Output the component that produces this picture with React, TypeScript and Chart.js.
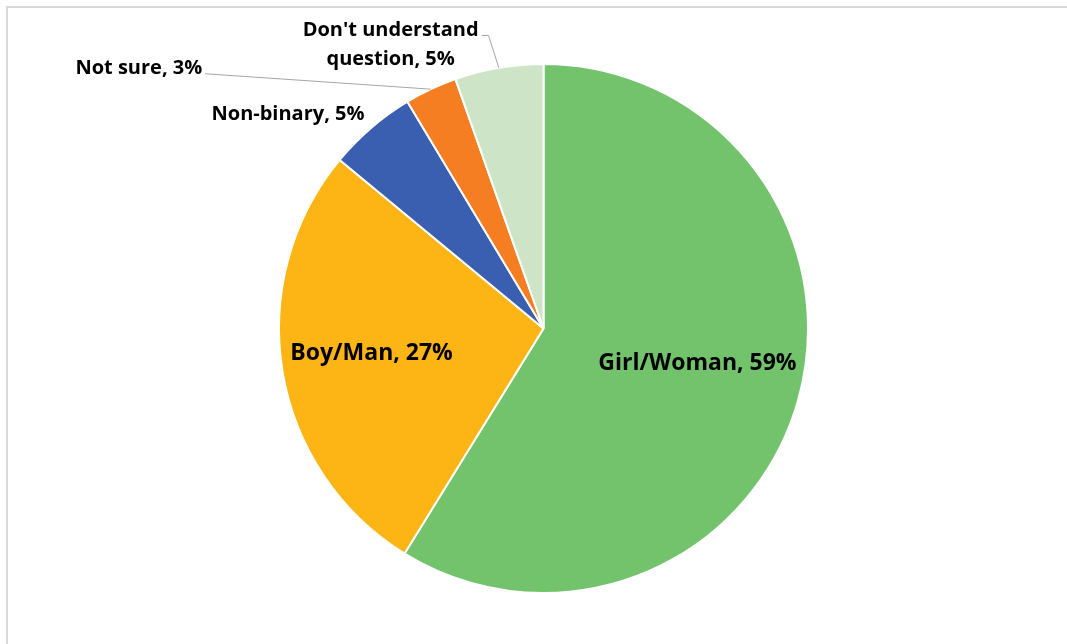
import React, { useEffect, useRef } from "react";
import { Chart, registerables } from "chart.js";

Chart.register(...registerables);

const categories = ["Girl/Woman", "Boy/Man", "Non-binary", "Not sure", "Don't understand\nquestion"];
const values = [58.8, 27.2, 5.4, 3.2, 5.4];
const colors = ["#72C36B", "#FDB515", "#3B5FB0", "#F47E21", "#CDE5C6"];

// label layout: offset of the label centre from the pie centre, in radius units
const labelLayout = [
  { inside: true, dx: 0.582, dy: 0.133 },
  { inside: true, dx: -0.65, dy: 0.095 },
  { inside: false, dx: -0.966, dy: -0.81, leader: false },
  { inside: false, dx: -1.53, dy: -0.982, leader: true },
  { inside: false, dx: -0.578, dy: -1.072, leader: true, elbow: true },
];

const FONT = "'Open Sans', 'Noto Sans', sans-serif";

const labelPlugin = {
  id: "pieLabels",
  afterDraw(chart: any) {
    const ctx = chart.ctx;
    const meta = chart.getDatasetMeta(0);
    const total = values.reduce((a, b) => a + b, 0);
    meta.data.forEach((arc: any, i: number) => {
      const p = arc.getProps(["x", "y", "startAngle", "endAngle", "outerRadius"], true);
      const mid = (p.startAngle + p.endAngle) / 2;
      const pct = Math.round((values[i] / total) * 100);
      const text = categories[i] + ", " + pct + "%";
      const lines = text.split("\n");
      const L: any = labelLayout[i];
      ctx.save();
      ctx.fillStyle = "#000";
      ctx.textAlign = "center";
      ctx.textBaseline = "middle";
      ctx.font = (L.inside ? "bold 23px " : "bold 20px ") + FONT;
      const lh = 29;
      const cx = p.x + L.dx * p.outerRadius;
      const cy = p.y + L.dy * p.outerRadius;
      const y0 = cy - ((lines.length - 1) * lh) / 2;
      lines.forEach((ln: string, k: number) => ctx.fillText(ln, cx, y0 + k * lh));
      if (L.leader) {
        const w = ctx.measureText(lines[0]).width;
        const sx = cx + w / 2 + 3;
        const sy = y0 + 5;
        const ex = p.x + Math.cos(mid) * p.outerRadius;
        const ey = p.y + Math.sin(mid) * p.outerRadius;
        ctx.strokeStyle = "#A6A6A6";
        ctx.lineWidth = 1;
        ctx.beginPath();
        ctx.moveTo(sx, sy);
        if (L.elbow) {
          ctx.lineTo(sx + 7, sy);
        }
        ctx.lineTo(ex, ey);
        ctx.stroke();
      }
      ctx.restore();
    });
  },
};

export default function App() {
  const ref = useRef<HTMLCanvasElement>(null);
  useEffect(() => {
    const chart = new Chart(ref.current!, {
      type: "pie",
      data: {
        labels: categories,
        datasets: [
          {
            data: values,
            backgroundColor: colors,
            borderColor: "#FFFFFF",
            borderWidth: 2,
            hoverOffset: 0,
          },
        ],
      },
      options: {
        responsive: false,
        animation: false,
        events: [],
        layout: { padding: { top: 62, bottom: 49, left: 278, right: 258 } },
        plugins: { legend: { display: false }, tooltip: { enabled: false } },
      },
      plugins: [labelPlugin],
    });
    return () => chart.destroy();
  }, []);
  return (
    <div style={{ position: "fixed", left: 0, top: 0, width: 1067, height: 644, background: "#fff", overflow: "hidden" }}>
      <div
        style={{
          position: "absolute",
          left: 6,
          top: 6,
          width: 1100,
          height: 700,
          borderTop: "2px solid #D9D9D9",
          borderLeft: "2px solid #D9D9D9",
        }}
      />
      <canvas ref={ref} width={1067} height={644} style={{ position: "absolute", left: 0, top: 0 }} />
    </div>
  );
}
